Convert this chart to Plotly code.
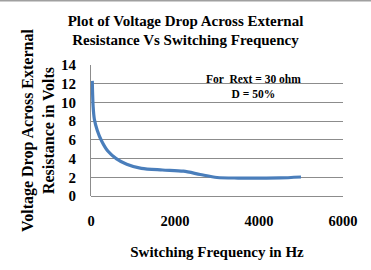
import plotly.graph_objects as go

freq_hz = [30, 50, 80, 150, 250, 400, 600, 850, 1200, 1700, 2200, 2600, 3000, 3500, 4000, 4500, 5000]
voltage_v = [12.3, 9.6, 8.2, 7.0, 5.9, 4.8, 4.0, 3.4, 2.95, 2.78, 2.65, 2.3, 1.98, 1.92, 1.92, 1.93, 2.03]

x_ticks = [0, 2000, 4000, 6000]
y_ticks = [0, 2, 4, 6, 8, 10, 12, 14]

font_family = "Liberation Serif"

fig = go.Figure()
fig.add_trace(go.Scatter(
    x=freq_hz, y=voltage_v, mode="lines",
    line=dict(color="#4a7ebb", width=3.2, shape="spline", smoothing=0.8),
    showlegend=False, hoverinfo="skip",
))

fig.update_layout(
    width=371, height=270,
    margin=dict(l=91, r=28, t=65, b=74),
    paper_bgcolor="white", plot_bgcolor="white",
    font=dict(family=font_family, color="black"),
    title=dict(
        text="<b>Plot of Voltage Drop Across External<br>Resistance Vs Switching Frequency</b>",
        x=0.5, xanchor="center", y=0.905, yanchor="top",
        font=dict(size=15, family=font_family),
    ),
    xaxis=dict(
        range=[0, 6000], tickvals=x_ticks,
        ticktext=[f"<b>{v}</b>" for v in x_ticks],
        showgrid=False, zeroline=False, showline=False,
        ticks="", tickfont=dict(size=14.5, family=font_family), ticklabelstandoff=14,
        title=dict(text="<b>Switching Frequency in Hz</b>", font=dict(size=15, family=font_family), standoff=18),
    ),
    yaxis=dict(
        range=[0, 14], tickvals=y_ticks,
        ticktext=[f"<b>{v}</b>" for v in y_ticks],
        showgrid=True, gridcolor="#8c8c8c", gridwidth=1,
        zeroline=True, zerolinecolor="#8c8c8c", zerolinewidth=1,
        showline=True, linecolor="#8c8c8c", linewidth=1,
        ticks="", tickfont=dict(size=15, family=font_family), ticklabelstandoff=11,
        title=dict(text="<b>Voltage Drop Across External<br>Resistance in Volts</b>", font=dict(size=16, family=font_family), standoff=2),
    ),
)

fig.add_annotation(
    x=0.643, y=0.835, xref="paper", yref="paper",
    text="<b>For  Rext = 30 ohm<br>D = 50%</b>",
    showarrow=False, align="center", xanchor="center", yanchor="middle",
    font=dict(size=11.5, family=font_family),
)

# thin grey border line along the top edge of the image
fig.add_annotation(
    x=0.375, y=1.49, xref="paper", yref="paper",
    text=" ", showarrow=False, width=371, height=1,
    xanchor="center", yanchor="middle", borderpad=0,
    bgcolor="#a0a0a0", font=dict(size=1),
)

fig.write_html("out.html")
